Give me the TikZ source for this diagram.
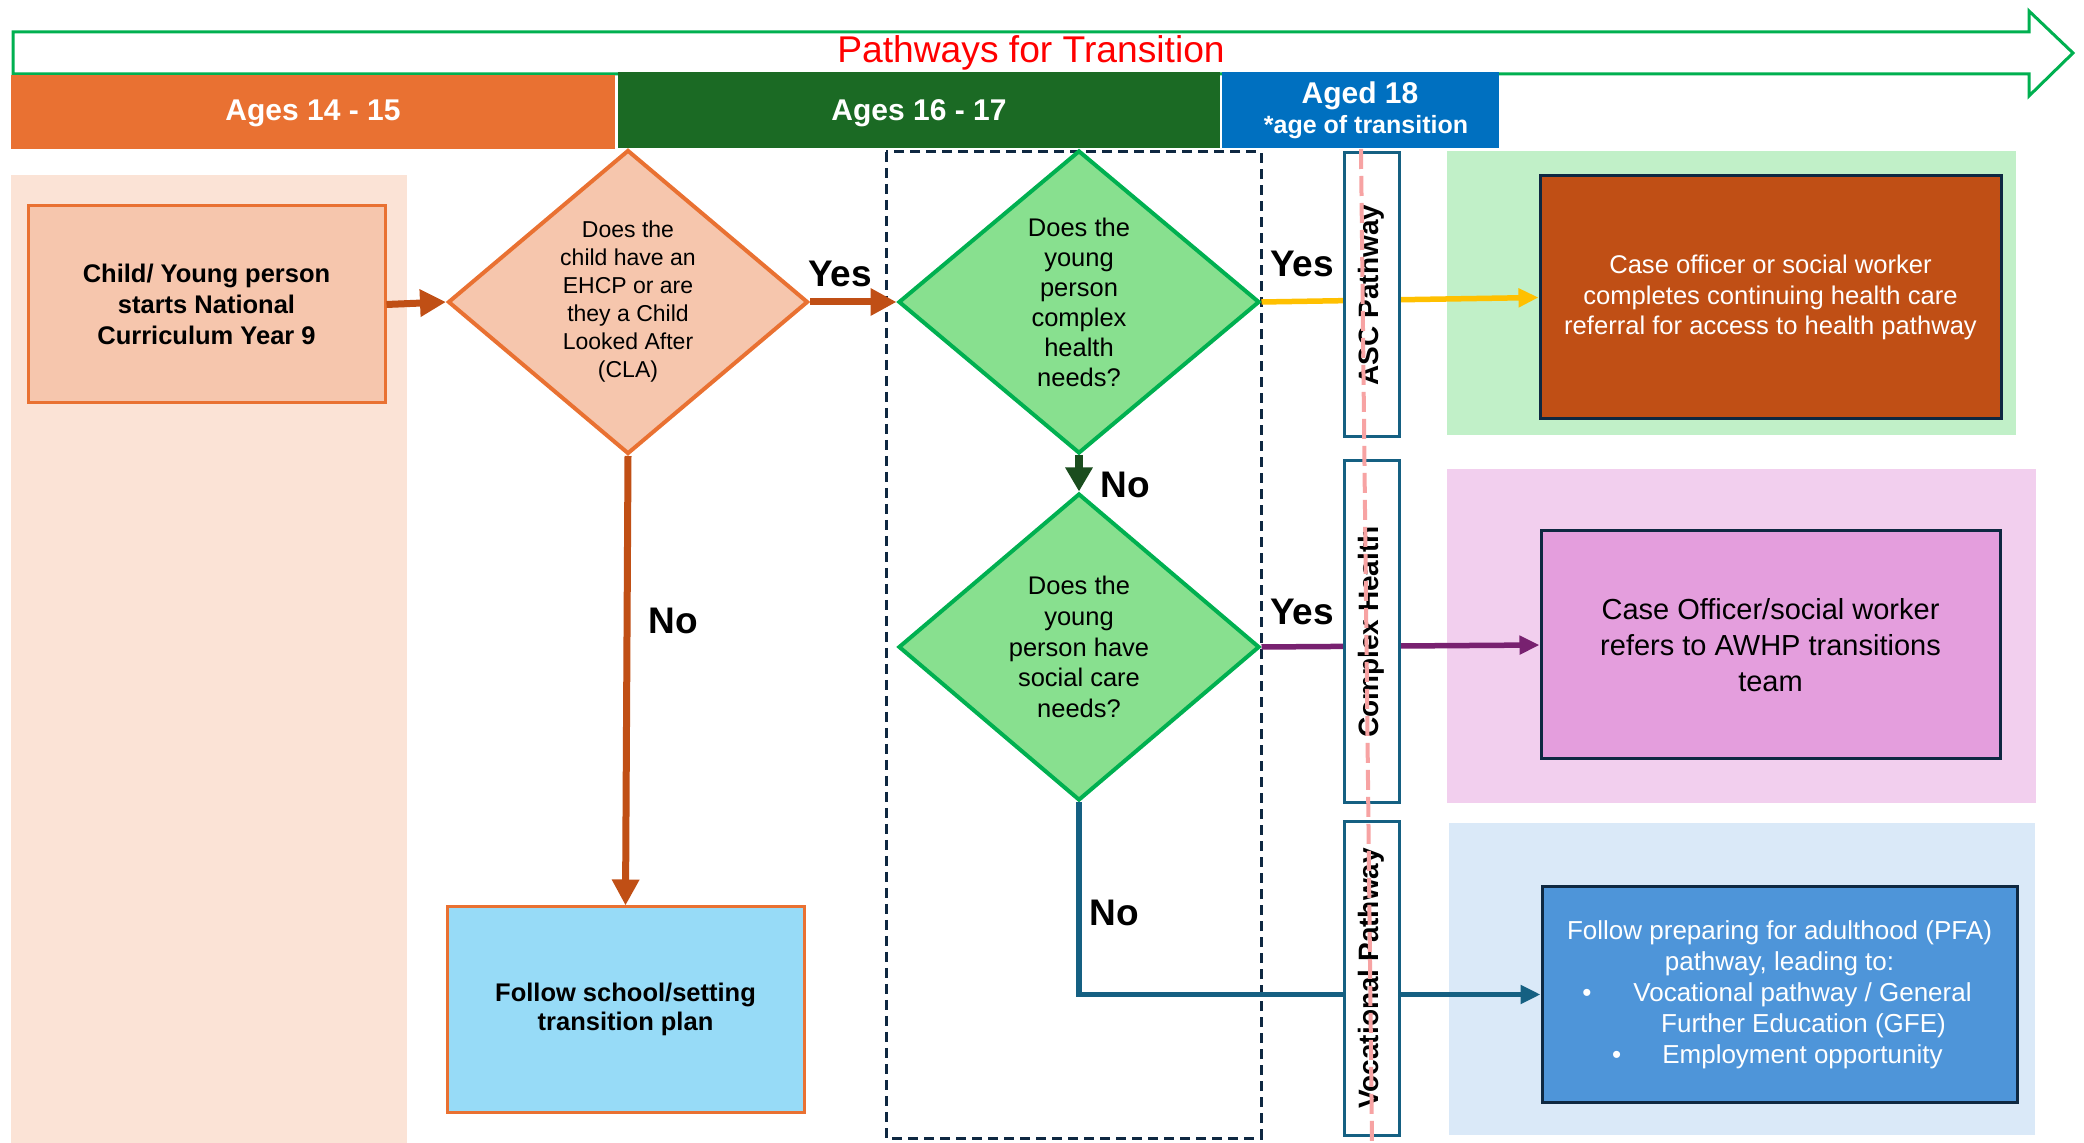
\documentclass[tikz,border=0pt]{standalone}
\usepackage{fontspec}
\setmainfont{Liberation Sans}
\usetikzlibrary{shapes.geometric,arrows.meta}
\definecolor{cOr}{HTML}{E97132}
\definecolor{cBr}{HTML}{C04F15}
\definecolor{cPeach}{HTML}{F6C6AD}
\definecolor{cPale}{HTML}{FBE3D6}
\definecolor{cHdGreen}{HTML}{1B6A24}
\definecolor{cHdBlue}{HTML}{0070C0}
\definecolor{cDFill}{HTML}{88E08F}
\definecolor{cDLine}{HTML}{00B050}
\definecolor{cDkGreen}{HTML}{1A4D1E}
\definecolor{cYel}{HTML}{FFC000}
\definecolor{cPurp}{HTML}{782170}
\definecolor{cTeal}{HTML}{156082}
\definecolor{cNavy}{HTML}{0E2841}
\definecolor{cBgGreen}{HTML}{C1F0C8}
\definecolor{cBgPink}{HTML}{F2CFEE}
\definecolor{cBgBlue}{HTML}{DAE9F8}
\definecolor{cMag}{HTML}{E49EDD}
\definecolor{cBlueBox}{HTML}{4E95D9}
\definecolor{cSchool}{HTML}{97DBF7}
\definecolor{cPinkDash}{HTML}{F7A3A3}
\newcommand\myfs[2]{\fontsize{#1}{#2}\selectfont}
\tikzset{
  boxnode/.style={rectangle, inner sep=0pt, align=center},
  dianode/.style={diamond, inner sep=0pt, align=center, line width=2pt},
  yesno/.style={anchor=base, font=\myfs{18.5}{20}\bfseries},
  hdtext/.style={anchor=base, text=white, font=\myfs{15}{17}\bfseries},
  pathbox/.style={rectangle, draw=cTeal, line width=1.5pt, fill=white, rotate=90,
    minimum height=27.5pt, inner sep=0pt, font=\myfs{14}{16}\bfseries},
  brarrow/.style={draw=cBr, line width=3.5pt, -{Triangle[length=13pt,width=13pt]}},
  gnarrow/.style={draw=cDkGreen, line width=4pt, -{Triangle[length=12pt,width=13pt]}},
  thinarrow/.style={line width=2.75pt, -{Triangle[length=10pt,width=9pt]}}
}
\begin{document}
\begin{tikzpicture}[x=0.5pt,y=-0.5pt]
\useasboundingbox (0,0) rectangle (2084,1143);
% backgrounds
\fill[cPale] (11,175) rectangle (407,1143);
\fill[cBgGreen] (1447,151) rectangle (2016,435);
\fill[cBgPink] (1447,469) rectangle (2036,803);
\fill[cBgBlue] (1449,823) rectangle (2035,1135);
% top arrow
\draw[cDLine, line width=1.5pt, fill=white] (13,32) -- (2029,32) -- (2029,11) -- (2073,53)
  -- (2029,96) -- (2029,74) -- (13,74) -- cycle;
\node[anchor=base, text=red, font=\myfs{18.6}{20}] (title) at (1031,63) {Pathways for Transition};
% header bars
\fill[cOr] (11,75) rectangle (615,149);
\fill[cHdGreen] (618,72) rectangle (1220,148);
\fill[cHdBlue] (1222,72) rectangle (1499,148);
\node[hdtext] (h1) at (313,121) {Ages 14 - 15};
\node[hdtext] (h2) at (919,121) {Ages 16 - 17};
\node[hdtext] (h3) at (1360,104) {Aged 18};
\node[anchor=base, text=white, font=\myfs{12.5}{14}\bfseries] (h4) at (1366,134) {*age of transition};
% dashed box
\draw[cNavy, line width=1.5pt, dash pattern=on 5pt off 3pt] (886,152) rectangle (1261,1138);
% main nodes
\node[boxnode, draw=cOr, fill=cPeach, line width=1.5pt, minimum width=178.5pt, minimum height=98.5pt,
  font=\myfs{12.75}{15.5}\bfseries] (start) at (206.5,304.5)
  {Child/ Young person\\starts National\\Curriculum Year 9};
\node[dianode, draw=cOr, fill=cPeach, minimum width=180pt, minimum height=152pt,
  font=\myfs{11.5}{14}] (d1) at (628,302)
  {Does the\\child have an\\EHCP or are\\they a Child\\Looked After\\(CLA)};
\node[dianode, draw=cDLine, fill=cDFill, minimum width=180.5pt, minimum height=151.5pt,
  font=\myfs{12.75}{15}] (d2) at (1079,302)
  {Does the\\young\\person\\complex\\health\\needs?};
\node[dianode, draw=cDLine, fill=cDFill, minimum width=180.5pt, minimum height=153.5pt,
  font=\myfs{12.75}{15.3}] (d3) at (1079,647)
  {Does the\\young\\person have\\social care\\needs?};
\node[boxnode, draw=cOr, fill=cSchool, line width=1.5pt, minimum width=178.5pt, minimum height=102.5pt,
  font=\myfs{12.75}{14.5}\bfseries] (school) at (625.5,1009.5)
  {Follow school/setting\\transition plan};
\node[boxnode, draw=cNavy, fill=cBr, line width=1.5pt, minimum width=230.5pt, minimum height=121.5pt,
  text=white, font=\myfs{12.8}{15.25}] (health) at (1770.5,297.5)
  {Case officer or social worker\\completes continuing health care\\referral for access to health pathway};
\node[boxnode, draw=cNavy, fill=cMag, line width=1.5pt, minimum width=229.5pt, minimum height=114pt,
  font=\myfs{14.5}{18}] (awhp) at (1770.5,645)
  {Case Officer/social worker\\refers to AWHP transitions\\team};
\node[boxnode, draw=cNavy, fill=cBlueBox, line width=1.5pt, minimum width=237.5pt, minimum height=107.5pt,
  text=white, font=\myfs{13}{15.5}] (pfa) at (1779.5,994.5)
  {Follow preparing for adulthood (PFA)\\pathway, leading to:\\
   \hspace*{23pt}\makebox[0pt][r]{\textbullet\hspace{21pt}}Vocational pathway / General\\
   \hspace*{24pt}Further Education (GFE)\\
   \hspace*{23pt}\makebox[0pt][r]{\textbullet\hspace{20.5pt}}Employment opportunity};
% connectors
\draw[brarrow] (start.east) -- (d1.west);
\draw[brarrow] (d1.east) -- (d2.west);
\draw[brarrow] (d1.south) -- (school.north);
\draw[gnarrow] (d2.south) -- (d3.north);
\draw[thinarrow, draw=cYel] (d2.east) -- (health.west);
\draw[thinarrow, draw=cPurp] (d3.east) -- (awhp.west);
\draw[thinarrow, draw=cTeal] (d3.south) |- (pfa.west);
% labels
\node[yesno] (y1) at (840,287) {Yes};
\node[yesno] (y2) at (1302,277) {Yes};
\node[yesno] (y3) at (1302,625) {Yes};
\node[yesno] (n1) at (1125,498) {No};
\node[yesno] (n2) at (673,634) {No};
\node[yesno] (n3) at (1114,926) {No};
% pathway boxes
\node[pathbox, minimum width=142pt] (asc) at (1371.5,295) {ASC Pathway};
\node[pathbox, minimum width=171pt] (chp) at (1371.5,632) {Complex Health};
\node[pathbox, minimum width=156.5pt] (voc) at (1371.5,978.5) {Vocational Pathway};
% pink dashed line
\coordinate (pt) at (1361,149);
\coordinate (pb) at (1372,1143);
\draw[cPinkDash, line width=2pt, dash pattern=on 10pt off 3.5pt] (pt) -- (pb);
\end{tikzpicture}
\end{document}
